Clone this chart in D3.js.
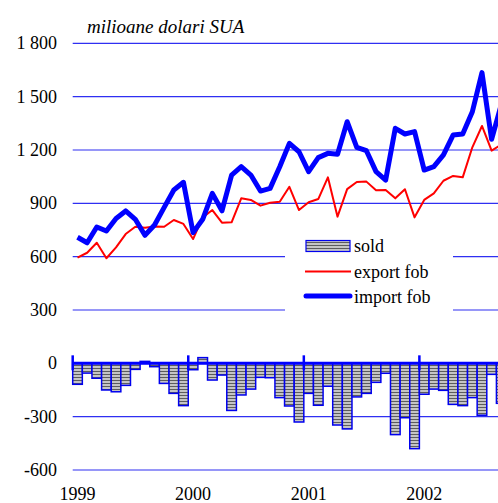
<!DOCTYPE html>
<html>
<head>
<meta charset="utf-8">
<script src="https://cdn.jsdelivr.net/npm/d3@7"></script>
<style>
  html, body { margin: 0; padding: 0; background: #fff; overflow: hidden; }
  svg { display: block; }
</style>
</head>
<body>
<svg id="chart" width="498" height="503"></svg>
<script>
// Monthly trade figures, Jan 1999 onward (milioane dolari SUA)
const years = ["1999", "2000", "2001", "2002"];

const exportFob = [
  594, 622, 678, 591, 652, 727, 768, 762, 770, 768, 806, 784,
  699, 821, 862, 791, 793, 928, 919, 887, 903, 909, 993, 862,
  906, 924, 1046, 825, 980, 1020, 1022, 973, 975, 928, 979, 821,
  919, 956, 1027, 1054, 1046, 1215, 1335, 1196, 1230
];

const importFob = [
  709, 678, 767, 744, 815, 857, 810, 720, 778, 877, 975, 1018,
  735, 810, 956, 858, 1059, 1106, 1059, 969, 984, 1106, 1237, 1190,
  1078, 1157, 1181, 1176, 1359, 1215, 1196, 1078, 1031, 1322, 1290, 1303,
  1087, 1106, 1172, 1284, 1290, 1415, 1635, 1260, 1455
];

const sold = [
  -118, -55, -84, -150, -160, -124, -34, 11, -19, -113, -169, -238,
  -36, 32, -94, -66, -265, -178, -145, -79, -81, -193, -240, -330,
  -169, -236, -129, -347, -369, -189, -169, -107, -56, -401, -306, -480,
  -174, -145, -152, -231, -238, -193, -292, -62, -225
];

const yTicks = [1800, 1500, 1200, 900, 600, 300, 0, -300, -600];
const legendLabels = ["sold", "export fob", "import fob"];

// month keys for the band scale
const months = years.flatMap(y => d3.range(1, 13).map(m => `${y}-${String(m).padStart(2, "0")}`))
  .slice(0, sold.length);

const svg = d3.select("#chart");
const FONT = "'Liberation Serif', 'Times New Roman', serif";
const GRID = "#2f2ff2";

const left = 72.7, step = 9.63;
const x = d3.scaleBand().domain(months).range([left, left + months.length * step]).padding(0);
const y = d3.scaleLinear().domain([-600, 1800]).range([470, 43.3]);
const plotRight = 498;

// striped fill for the balance bars
const defs = svg.append("defs");
const pat = defs.append("pattern")
  .attr("id", "stripes").attr("patternUnits", "userSpaceOnUse")
  .attr("width", 6).attr("height", 3);
pat.append("rect").attr("width", 6).attr("height", 3).attr("fill", "#c4c4c4");
pat.append("rect").attr("y", 2).attr("width", 6).attr("height", 1).attr("fill", "#5c5c5c");

// horizontal gridlines
svg.append("g").selectAll("line")
  .data(yTicks.filter(d => d !== 0))
  .join("line")
  .attr("x1", left).attr("x2", plotRight)
  .attr("y1", d => y(d)).attr("y2", d => y(d))
  .attr("stroke", GRID).attr("stroke-width", 1.2);

// y-axis labels, thousands separated by a space
const fmt = v => Math.abs(v) >= 1000 ? d3.format(",")(v).replace(",", " ") : String(v);
svg.append("g").selectAll("text")
  .data(yTicks)
  .join("text")
  .attr("x", 57).attr("y", d => y(d) + 6)
  .attr("text-anchor", "end")
  .attr("font-family", FONT).attr("font-size", 18).attr("fill", "#000")
  .text(fmt);

// unit caption
svg.append("text")
  .attr("x", 87).attr("y", 33)
  .attr("font-family", FONT).attr("font-size", 19).attr("font-style", "italic")
  .text("milioane dolari SUA");

// balance bars
svg.append("g").selectAll("rect")
  .data(sold)
  .join("rect")
  .attr("x", (d, i) => x(months[i]))
  .attr("width", x.bandwidth())
  .attr("y", d => y(Math.max(0, d)))
  .attr("height", d => Math.abs(y(d) - y(0)))
  .attr("fill", "url(#stripes)")
  .attr("stroke", "#0000ee").attr("stroke-width", 1.5);

// zero axis with yearly ticks
svg.append("line")
  .attr("x1", left).attr("x2", plotRight)
  .attr("y1", y(0)).attr("y2", y(0))
  .attr("stroke", "#0000ff").attr("stroke-width", 3);
svg.append("g").selectAll("line")
  .data(years)
  .join("line")
  .attr("x1", d => x(`${d}-01`)).attr("x2", d => x(`${d}-01`))
  .attr("y1", y(0) - 8).attr("y2", y(0) + 7)
  .attr("stroke", "#0000ff").attr("stroke-width", 2.5);

// year labels
svg.append("g").selectAll("text")
  .data(years)
  .join("text")
  .attr("x", d => x(`${d}-01`) + x.bandwidth() / 2)
  .attr("y", 500)
  .attr("text-anchor", "middle")
  .attr("font-family", FONT).attr("font-size", 18)
  .text(d => d);

// trade lines
const line = d3.line()
  .x((d, i) => x(months[i]) + x.bandwidth() / 2)
  .y(d => y(d));

svg.append("path").datum(exportFob)
  .attr("d", line).attr("fill", "none")
  .attr("stroke", "#ff0000").attr("stroke-width", 2).attr("stroke-linejoin", "round");

svg.append("path").datum(importFob)
  .attr("d", line).attr("fill", "none")
  .attr("stroke", "#0000ff").attr("stroke-width", 5).attr("stroke-linejoin", "round");

// legend
const lg = svg.append("g");
lg.append("rect").attr("x", 285).attr("y", 230).attr("width", 168).attr("height", 84).attr("fill", "#fff");
lg.append("rect").attr("x", 306).attr("y", 240.5).attr("width", 44).attr("height", 11)
  .attr("fill", "url(#stripes)").attr("stroke", "#0000ee").attr("stroke-width", 1.2);
lg.append("line").attr("x1", 305).attr("x2", 351).attr("y1", 271.5).attr("y2", 271.5)
  .attr("stroke", "#ff0000").attr("stroke-width", 2);
lg.append("line").attr("x1", 306).attr("x2", 350).attr("y1", 296).attr("y2", 296)
  .attr("stroke", "#0000ff").attr("stroke-width", 5).attr("stroke-linecap", "round");
lg.selectAll("text.lbl")
  .data(legendLabels)
  .join("text")
  .attr("class", "lbl")
  .attr("x", 354)
  .attr("y", (d, i) => [252, 278, 303][i])
  .attr("font-family", FONT).attr("font-size", 18)
  .text(d => d);
</script>
</body>
</html>
